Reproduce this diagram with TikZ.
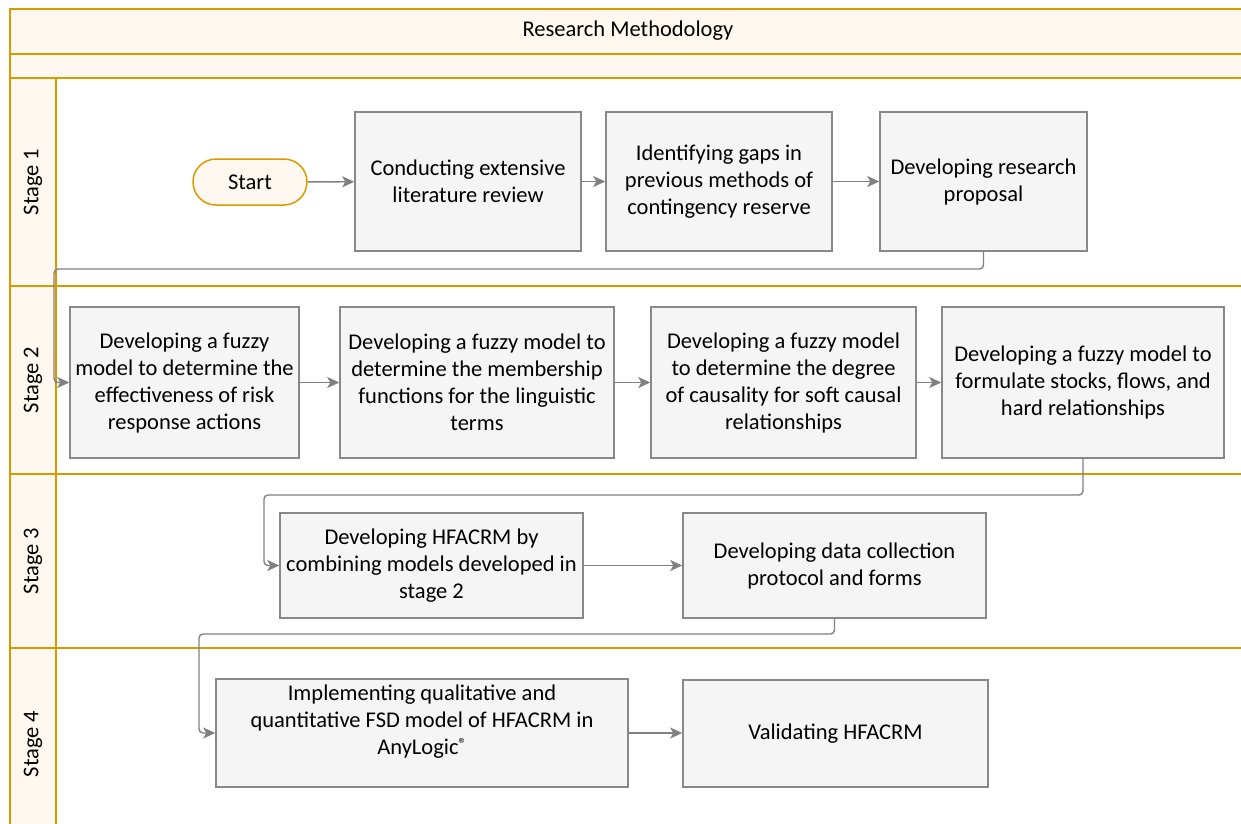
\documentclass[tikz,border=0pt]{standalone}
\usepackage{fontspec}
\setmainfont{Carlito}
\usetikzlibrary{arrows.meta,shapes.misc}
\definecolor{gold}{HTML}{D79B00}
\definecolor{lanefill}{HTML}{FFF8F0}
\definecolor{boxfill}{HTML}{F5F5F5}
\definecolor{boxline}{HTML}{888888}
\definecolor{conncol}{HTML}{808080}
\tikzset{
  lane/.style={draw=gold, line width=1.7pt},
  procbox/.style={draw=boxline, fill=boxfill, line width=1.5pt, align=center, inner sep=0pt,
    font=\fontsize{22.5}{27}\selectfont},
  startbox/.style={draw=gold, fill=lanefill, line width=1.5pt, rounded rectangle, inner sep=0pt,
    minimum width=114pt, minimum height=46pt, font=\fontsize{22.5}{27}\selectfont},
  conn/.style={draw=conncol, line width=1.4pt, rounded corners=4pt,
    -{Stealth[length=12pt,width=11pt,inset=3pt]}},
  stagelbl/.style={rotate=90, font=\fontsize{22.5}{27}\selectfont},
}
\begin{document}
\begin{tikzpicture}[x=1pt,y=-1pt]
\useasboundingbox (0,0) rectangle (1241,823);
% swimlane frame
\fill[lanefill] (10,9) rectangle (1245,78);
\fill[lanefill] (10,78) rectangle (56,830);
\draw[lane] (1245,9) -- (10,9) -- (10,830);
\draw[lane] (10,54) -- (1245,54);
\draw[lane] (10,78) -- (1245,78);
\draw[lane] (10,286) -- (1245,286);
\draw[lane] (10,474) -- (1245,474);
\draw[lane] (10,648) -- (1245,648);
\draw[lane] (56,78) -- (56,830);
\node[font=\fontsize{22.5}{27}\selectfont] (title) at (628,31) {Research Methodology};
\node[stagelbl] (s1) at (33,182) {Stage 1};
\node[stagelbl] (s2) at (33,380) {Stage 2};
\node[stagelbl] (s3) at (33,561) {Stage 3};
\node[stagelbl] (s4) at (33,744) {Stage 4};
% stage 1
\node[startbox] (start) at (250,182) {Start};
\node[procbox, minimum width=226pt, minimum height=139pt] (l1) at (468,181.5)
  {Conducting extensive\\literature review};
\node[procbox, minimum width=226pt, minimum height=139pt] (l2) at (719,181.5)
  {Identifying gaps in\\previous methods of\\contingency reserve};
\node[procbox, minimum width=207pt, minimum height=139pt] (l3) at (983.5,181.5)
  {Developing research\\proposal};
% stage 2
\node[procbox, minimum width=229pt, minimum height=151pt] (b1) at (184.5,382.5)
  {Developing a fuzzy\\model to determine the\\effectiveness of risk\\response actions};
\node[procbox, minimum width=274pt, minimum height=151pt] (b2) at (477,382.5)
  {Developing a fuzzy model to\\determine the membership\\functions for the linguistic\\terms};
\node[procbox, minimum width=265pt, minimum height=151pt] (b3) at (783.5,382.5)
  {Developing a fuzzy model\\to determine the degree\\of causality for soft causal\\relationships};
\node[procbox, minimum width=282pt, minimum height=151pt] (b4) at (1083,382.5)
  {Developing a fuzzy model to\\formulate stocks, flows, and\\hard relationships};
% stage 3
\node[procbox, minimum width=303pt, minimum height=105pt] (c1) at (431.5,565.5)
  {Developing HFACRM by\\combining models developed in\\stage 2};
\node[procbox, minimum width=303pt, minimum height=105pt] (c2) at (834.5,565.5)
  {Developing data collection\\protocol and forms};
% stage 4
\node[procbox, minimum width=412pt, minimum height=108pt] (d1) at (422,733)
  {Implementing qualitative and\\quantitative FSD model of HFACRM in\\AnyLogic{\fontsize{16}{16}\selectfont\raisebox{5pt}{®}}\\\mbox{}};
\node[procbox, minimum width=305pt, minimum height=107pt] (d2) at (835.5,733.5)
  {Validating HFACRM};
% connectors
\coordinate (k1) at (54,269);
\coordinate (k2) at (264,495);
\coordinate (k3) at (199,634);
\draw[conn] (start) -- (l1);
\draw[conn] (l1) -- (l2);
\draw[conn] (l2) -- (l3);
\draw[conn] (l3.south) |- (k1) |- (b1.west);
\draw[conn] (b1) -- (b2);
\draw[conn] (b2) -- (b3);
\draw[conn] (b3) -- (b4);
\draw[conn] (b4.south) |- (k2) |- (c1.west);
\draw[conn] (c1) -- (c2);
\draw[conn] (c2.south) |- (k3) |- (d1.west);
\draw[conn] (d1.east) -- (d1.east -| d2.west);
\end{tikzpicture}
\end{document}
